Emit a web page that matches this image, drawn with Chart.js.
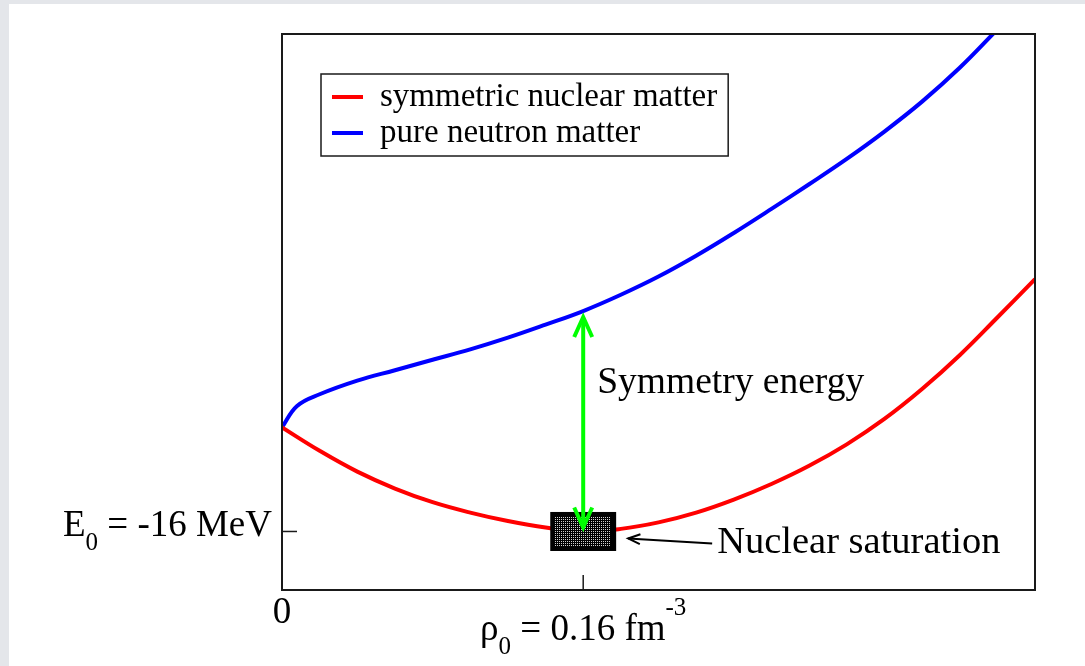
<!DOCTYPE html>
<html>
<head>
<meta charset="utf-8">
<script src="https://cdn.jsdelivr.net/npm/chart.js@4.4.0/dist/chart.umd.min.js"></script>
<style>
  html, body { margin: 0; padding: 0; }
  body { width: 1085px; height: 666px; background: #e4e6ea; position: relative; overflow: hidden; }
  #sheet { position: absolute; left: 9px; top: 4px; right: 0; bottom: 0; background: #fff; }
  #eos { position: absolute; left: 0; top: 0; }
</style>
</head>
<body>
<div id="sheet"></div>
<canvas id="eos" width="1085" height="666"></canvas>
<script>
// energy per nucleon (MeV) against baryon density (fm^-3)
const snmDensity = [0, 0.02, 0.04, 0.06, 0.08, 0.10, 0.12, 0.14, 0.16, 0.18, 0.20, 0.22, 0.24, 0.26, 0.28, 0.30, 0.32, 0.34, 0.36, 0.38, 0.40];
const snmEnergy  = [0, -3.6, -6.8, -9.4, -11.5, -13.1, -14.4, -15.4, -16.0, -15.6, -14.6, -13.1, -11.1, -8.7, -5.9, -2.6, 1.3, 5.9, 11.1, 16.9, 22.8];
const pnmDensity = [0, 0.008, 0.02, 0.04, 0.06, 0.08, 0.10, 0.12, 0.14, 0.16, 0.18, 0.20, 0.22, 0.24, 0.26, 0.28, 0.30, 0.32, 0.34, 0.36, 0.38];
const pnmEnergy  = [0, 3.3, 5.1, 7.2, 8.8, 10.4, 12.0, 13.8, 15.8, 17.9, 20.4, 23.2, 26.4, 29.9, 33.6, 37.4, 41.3, 45.5, 50.1, 55.3, 61.2];

const seriesNames = ["symmetric nuclear matter", "pure neutron matter"];

// saturation point and its uncertainty box
const rho0 = 0.16;
const e0 = -16;
const satBoxRho = [0.1425, 0.1775];
const satBoxEnergy = [-19, -13];

// ticks and their labels, as [text, role] pieces
const xTicks = [0, rho0];
const xTickLabels = [
  [["0"]],
  [["ρ"], ["0", "sub"], [" = 0.16 fm"], ["-3", "sup"]]
];
const yTicks = [e0];
const yTickLabels = [
  [["E"], ["0", "sub"], [" = -16 MeV"]]
];

const symmetryText = "Symmetry energy";
const saturationText = "Nuclear saturation";

const serif = '"Liberation Serif", "Times New Roman", serif';

function drawParts(ctx, parts, x, y, align) {
  const sizes = { main: 37, sub: 25, sup: 25 };
  const shift = { main: 0, sub: 14, sup: -25 };
  const widths = parts.map(p => {
    ctx.font = sizes[p[1] || "main"] + "px " + serif;
    return ctx.measureText(p[0]).width;
  });
  const total = widths.reduce((a, b) => a + b, 0);
  let cx = align === "right" ? x - total : align === "center" ? x - total / 2 : x;
  ctx.textAlign = "left";
  ctx.textBaseline = "alphabetic";
  parts.forEach((p, i) => {
    const role = p[1] || "main";
    ctx.font = sizes[role] + "px " + serif;
    ctx.fillText(p[0], cx, y + shift[role]);
    cx += widths[i];
  });
}

function arrowHead(ctx, tx, ty, fx, fy, len, half) {
  const ang = Math.atan2(ty - fy, tx - fx);
  const bx = tx - len * Math.cos(ang), by = ty - len * Math.sin(ang);
  const nx = -Math.sin(ang) * half, ny = Math.cos(ang) * half;
  ctx.beginPath();
  ctx.moveTo(bx + nx, by + ny);
  ctx.lineTo(tx, ty);
  ctx.lineTo(bx - nx, by - ny);
  ctx.stroke();
}

// dotted fill for the saturation box
function dotPattern(ctx) {
  const tile = document.createElement("canvas");
  tile.width = 2; tile.height = 2;
  const t = tile.getContext("2d");
  t.fillStyle = "#000";
  t.fillRect(0, 0, 2, 2);
  t.fillStyle = "#cfcfcf";
  t.fillRect(1, 1, 1, 1);
  return ctx.createPattern(tile, "repeat");
}

const decorations = {
  id: "decorations",
  afterDatasetsDraw(chart) {
    const { ctx, chartArea: a, scales: { x, y } } = chart;
    ctx.save();

    // saturation box
    const bx1 = x.getPixelForValue(satBoxRho[0]);
    const bx2 = x.getPixelForValue(satBoxRho[1]);
    const by1 = y.getPixelForValue(satBoxEnergy[1]);
    const by2 = y.getPixelForValue(satBoxEnergy[0]);
    ctx.fillStyle = "#000";
    ctx.fillRect(bx1, by1, bx2 - bx1, by2 - by1);
    ctx.fillStyle = dotPattern(ctx);
    ctx.fillRect(Math.round(bx1 + 5), Math.round(by1 + 5), Math.round(bx2 - bx1 - 10), Math.round(by2 - by1 - 10));

    // symmetry energy arrow between the two curves at rho0
    const px = x.getPixelForValue(rho0);
    const yTop = y.getPixelForValue(pnmEnergy[pnmDensity.indexOf(rho0)]) + 6;
    const yBot = y.getPixelForValue(e0) - 4;
    ctx.strokeStyle = "#00ff00";
    ctx.lineWidth = 4;
    ctx.lineCap = "butt";
    ctx.lineJoin = "miter";
    ctx.beginPath();
    ctx.moveTo(px, yTop + 2);
    ctx.lineTo(px, yBot - 2);
    ctx.stroke();
    arrowHead(ctx, px, yTop, px, yBot, 20, 9);
    arrowHead(ctx, px, yBot, px, yTop, 20, 9);

    ctx.fillStyle = "#000";
    ctx.font = "37.5px " + serif;
    ctx.textAlign = "left";
    ctx.textBaseline = "alphabetic";
    ctx.fillText(symmetryText, px + 14, yTop + 76);

    // pointer to the saturation box
    const ey = y.getPixelForValue(e0);
    ctx.strokeStyle = "#000";
    ctx.lineWidth = 2;
    ctx.beginPath();
    ctx.moveTo(bx2 + 96, ey + 12);
    ctx.lineTo(bx2 + 12, ey + 7);
    ctx.stroke();
    arrowHead(ctx, bx2 + 12, ey + 7, bx2 + 96, ey + 12, 12, 5);
    ctx.font = "38.5px " + serif;
    ctx.fillText(saturationText, bx2 + 101, ey + 22);

    // frame
    ctx.strokeStyle = "#1a1a1a";
    ctx.lineWidth = 2;
    ctx.strokeRect(a.left, a.top, a.right - a.left, a.bottom - a.top);

    // inward ticks
    ctx.lineWidth = 1.5;
    xTicks.forEach(v => {
      const tx = x.getPixelForValue(v);
      ctx.beginPath();
      ctx.moveTo(tx, a.bottom);
      ctx.lineTo(tx, a.bottom - 15);
      ctx.stroke();
    });
    yTicks.forEach(v => {
      const ty = y.getPixelForValue(v);
      ctx.beginPath();
      ctx.moveTo(a.left, ty);
      ctx.lineTo(a.left + 15, ty);
      ctx.stroke();
    });

    // tick labels
    ctx.fillStyle = "#000";
    xTicks.forEach((v, i) => {
      const baseline = i === 0 ? a.bottom + 33 : a.bottom + 50;
      drawParts(ctx, xTickLabels[i], x.getPixelForValue(v), baseline, "center");
    });
    yTicks.forEach((v, i) => {
      drawParts(ctx, yTickLabels[i], a.left - 10, y.getPixelForValue(v) + 5, "right");
    });

    // legend
    const lx = a.left + 39, ly = a.top + 40;
    ctx.font = "33px " + serif;
    const textW = Math.max(...seriesNames.map(s => ctx.measureText(s).width));
    const lw = 59 + textW + 11, lh = 82;
    ctx.fillStyle = "#fff";
    ctx.fillRect(lx, ly, lw, lh);
    ctx.strokeStyle = "#1a1a1a";
    ctx.lineWidth = 1.5;
    ctx.strokeRect(lx, ly, lw, lh);
    chart.data.datasets.forEach((ds, i) => {
      const rowY = ly + 23 + i * 36;
      ctx.strokeStyle = ds.borderColor;
      ctx.lineWidth = 4;
      ctx.beginPath();
      ctx.moveTo(lx + 11, rowY);
      ctx.lineTo(lx + 42, rowY);
      ctx.stroke();
      ctx.fillStyle = "#000";
      ctx.fillText(ds.label, lx + 59, rowY + 8.5);
    });

    ctx.restore();
  }
};

new Chart(document.getElementById("eos"), {
  type: "line",
  data: {
    datasets: [
      {
        label: seriesNames[0],
        data: snmDensity.map((r, i) => ({ x: r, y: snmEnergy[i] })),
        borderColor: "#ff0000",
        borderWidth: 4,
        pointRadius: 0,
        tension: 0.4,
        clip: 0
      },
      {
        label: seriesNames[1],
        data: pnmDensity.map((r, i) => ({ x: r, y: pnmEnergy[i] })),
        borderColor: "#0000ff",
        borderWidth: 4,
        pointRadius: 0,
        tension: 0.4,
        clip: 0
      }
    ]
  },
  options: {
    responsive: false,
    animation: false,
    layout: { padding: { left: 282, top: 34, right: 50, bottom: 76 } },
    scales: {
      x: { type: "linear", min: 0, max: 0.40, display: false },
      y: { type: "linear", min: -25, max: 60.5, display: false }
    },
    plugins: {
      legend: { display: false },
      tooltip: { enabled: false }
    }
  },
  plugins: [decorations]
});
</script>
</body>
</html>
